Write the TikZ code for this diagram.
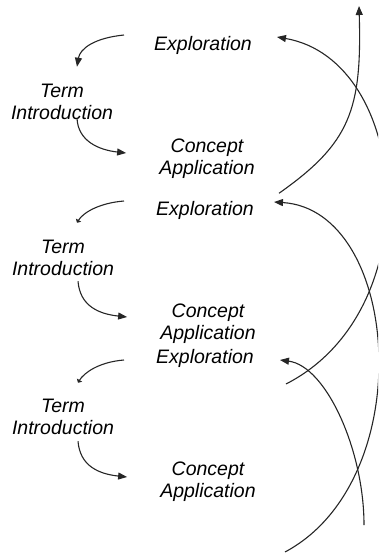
\documentclass[tikz,border=0pt]{standalone}
\usepackage{fontspec}
\setmainfont{Liberation Sans}
\usetikzlibrary{arrows.meta}
\begin{document}
\begin{tikzpicture}[x=1pt,y=-1pt,
  stage/.style={font=\fontsize{19.5}{22.5}\selectfont\itshape,align=center,inner sep=0pt},
  cyc/.style={line width=1.1pt,black!85,-{Triangle[length=9pt,width=7pt]}},
  cycsmall/.style={line width=1.1pt,black!85,-{Triangle[length=3pt,width=6pt]}}]
\useasboundingbox (0,0) rectangle (378,553);
\clip (0,0) rectangle (378,553);
% three rounds of the cycle
\node[stage] (expl1) at (203,45.5) {Exploration};
\node[stage] (term1) at (62,102) {Term\\Introduction};
\node[stage] (conc1) at (207,158.5) {Concept\\Application};
\node[stage] (expl2) at (205,210.5) {Exploration};
\node[stage] (term2) at (63,258) {Term\\Introduction};
\node[stage] (conc2) at (208,323.5) {Concept\\Application};
\node[stage] (expl3) at (205,358.5) {Exploration};
\node[stage] (term3) at (63,417) {Term\\Introduction};
\node[stage] (conc3) at (208,481.5) {Concept\\Application};
\coordinate (top) at (359,6);
\coordinate (bot1) at (285,552);
\coordinate (bot2) at (364,525);
% left side
\draw[cyc] ([shift={(-30,-10.5)}]expl1.west) .. controls +(-30,3) and +(3,-18) .. ([shift={(15,-17)}]term1.north);
\draw[cyc] ([shift={(15,-2)}]term1.south) .. controls +(1,23) and +(-27,-3) .. ([shift={(-33,-5.5)}]conc1.west);
\draw[cycsmall] ([shift={(-32,-9.5)}]expl2.west) .. controls +(-25,2) and +(6,-10) .. ([shift={(14,-17)}]term2.north);
\draw[cyc] ([shift={(15,5)}]term2.south) .. controls +(2,25) and +(-28,-3) .. ([shift={(-33,-6.5)}]conc2.west);
\draw[cycsmall] ([shift={(-32,1.5)}]expl3.west) .. controls +(-25,2) and +(6,-10) .. ([shift={(15,-16)}]term3.north);
\draw[cyc] ([shift={(15,6)}]term3.south) .. controls +(2,25) and +(-28,-3) .. ([shift={(-33,-4.5)}]conc3.west);
% right side
\draw[cyc] ([shift={(72,14.5)}]conc1.south) .. controls +(71,-50) and +(3,104) .. (top);
\draw[cyc] ([shift={(32,25.5)}]expl3.east) .. controls +(145,-74) and +(133,23) .. ([shift={(25,-8.5)}]expl1.east);
\draw[cyc] (bot1) .. controls +(135,-72) and +(127,8) .. ([shift={(20,-8.5)}]expl2.east);
\draw[cyc] (bot2) .. controls +(0,-75) and +(46,6) .. ([shift={(26,1.5)}]expl3.east);
\end{tikzpicture}
\end{document}
